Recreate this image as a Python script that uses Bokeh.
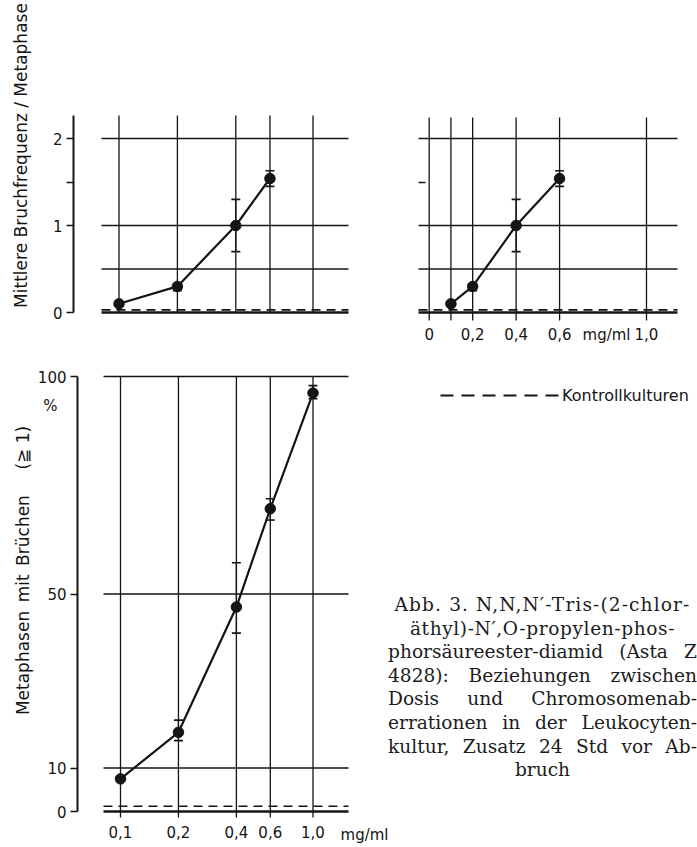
import math
from bokeh.plotting import figure
from bokeh.models import (ColumnDataSource, FixedTicker, Whisker, TeeHead, Label,
                          Legend, LegendItem, Range1d, Div, CustomJSTickFormatter)
from bokeh.layouts import row, column
from bokeh.embed import file_html
from bokeh.resources import INLINE

# ---------------- data ----------------
doses_break = [0.1, 0.2, 0.4, 0.6]          # mg/ml
breaks_mean = [0.10, 0.30, 1.00, 1.54]      # mittlere Bruchfrequenz / Metaphase
breaks_lo = [0.09, 0.25, 0.70, 1.45]
breaks_hi = [0.11, 0.33, 1.30, 1.63]
ctrl_break = 0.03                           # Kontrollkulturen

doses_pct = [0.1, 0.2, 0.4, 0.6, 1.0]       # mg/ml
pct_mean = [7.5, 18.2, 47.0, 69.6, 96.2]    # % Metaphasen mit Brüchen
pct_lo = [7.0, 16.3, 41.0, 67.0, 94.9]
pct_hi = [8.0, 21.0, 57.2, 71.9, 97.9]
ctrl_pct = 1.2                              # Kontrollkulturen

grid_doses_log = [0.1, 0.2, 0.4, 0.6, 1.0]
grid_doses_lin = [0.0, 0.1, 0.2, 0.4, 0.6, 1.0]
grid_break = [0.5, 1.0, 2.0]
grid_pct = [10, 50, 100]
ticks_break_major = [0, 1, 2]
ticks_break_minor = [1.5]
ticks_pct = [0, 10, 50, 100]
ticks_dose_lin = [0.0, 0.2, 0.4, 0.6, 1.0]
ticks_dose_log = [0.1, 0.2, 0.4, 0.6, 1.0]

# ---------------- layout helpers (page pixel -> data) ----------------
INK = "#141414"
SANS = "DejaVu Sans"
TICK_SIZE = "15px"

def tl_x(px):   # log dose axis, top-left panel
    return 10 ** (-1 + (px - 118.5) / 194.0)

def tr_x(px):   # linear dose axis, top-right panel
    return (px - 428.7) / 217.3

def top_y(py):  # breaks per metaphase, both top panels
    return (312.0 - py) / 87.0

def b_x(px):    # log dose axis, bottom panel
    return 10 ** (-1 + (px - 120.0) / 192.5)

def b_y(py):    # percent axis, bottom panel
    return (811.0 - py) / 4.35

comma_fmt = CustomJSTickFormatter(code="return tick == 0 ? '0' : tick.toFixed(1).replace('.', ',');")


def make_fig(w, h, xr, yr, xtype="linear"):
    p = figure(width=w, height=h, x_range=Range1d(*xr), y_range=Range1d(*yr),
               x_axis_type=xtype, output_backend="svg", toolbar_location=None,
               min_border=0, outline_line_color=None, background_fill_color="white",
               border_fill_color="white", margin=(0, 0, 0, 0))
    p.grid.visible = False
    for ax in p.axis:
        ax.axis_line_color = INK
        ax.major_tick_line_color = INK
        ax.minor_tick_line_color = INK
        ax.major_label_text_color = INK
        ax.major_label_text_font = SANS
        ax.major_label_text_font_size = TICK_SIZE
        ax.major_tick_in = 0
        ax.minor_tick_in = 0
        ax.minor_tick_out = 0
    return p


def style_yaxis(ax, loc, bounds, ticks, minor=None):
    ax.fixed_location = loc
    ax.bounds = bounds
    ax.ticker = FixedTicker(ticks=ticks, minor_ticks=minor or [])
    ax.axis_line_width = 2
    ax.major_tick_line_width = 1.6
    ax.minor_tick_line_width = 1.6
    ax.major_tick_out = 7
    ax.minor_tick_out = 7 if minor else 0
    ax.major_label_standoff = 4


def draw_grid(p, vx, vy0, vy1, hy, hx0, hx1, ctrl):
    n = len(vx)
    p.segment(x0=vx, y0=[vy0] * n, x1=vx, y1=[vy1] * n, line_color=INK, line_width=1.3)
    m = len(hy)
    p.segment(x0=[hx0] * m, y0=hy, x1=[hx1] * m, y1=hy, line_color=INK, line_width=1.3)
    p.segment(x0=[hx0], y0=[0], x1=[hx1], y1=[0], line_color=INK, line_width=2.6)
    return p.segment(x0=[hx0], y0=[ctrl], x1=[hx1], y1=[ctrl], line_color=INK,
                     line_width=1.6, line_dash="9 6")


def draw_series(p, xs, ys, lo, hi):
    src = ColumnDataSource(dict(x=xs, y=ys, lo=lo, hi=hi))
    p.add_layout(Whisker(source=src, base="x", lower="lo", upper="hi",
                         line_color=INK, line_width=1.3,
                         upper_head=TeeHead(size=9, line_color=INK, line_width=1.6),
                         lower_head=TeeHead(size=9, line_color=INK, line_width=1.6)))
    p.line("x", "y", source=src, line_color=INK, line_width=2.2)
    p.scatter("x", "y", source=src, size=10.5, fill_color=INK, line_color=INK)


def screen_label(p, box, px, py, text, size=TICK_SIZE, angle=0.0):
    x0, y0, x1, y1 = box
    p.add_layout(Label(x=px - x0, y=y1 - py, x_units="screen", y_units="screen",
                       text=text, angle=angle, text_align="center", text_baseline="middle",
                       text_font=SANS, text_font_size=size, text_color=INK))


# ---------------- top-left: breaks per metaphase, log dose ----------------
TL = (0, 0, 360, 360)
tl = make_fig(TL[2] - TL[0], TL[3] - TL[1], (tl_x(TL[0]), tl_x(TL[2])), (top_y(TL[3]), top_y(TL[1])), "log")
tl.xaxis.visible = False
style_yaxis(tl.yaxis[0], tl_x(73), (0, top_y(115)), ticks_break_major, ticks_break_minor)
draw_grid(tl, grid_doses_log, 0, top_y(115), grid_break, tl_x(101), tl_x(348), ctrl_break)
draw_series(tl, doses_break, breaks_mean, breaks_lo, breaks_hi)
screen_label(tl, TL, 20, 155, "Mittlere Bruchfrequenz / Metaphase", "17px", math.pi / 2)

# ---------------- top-right: breaks per metaphase, linear dose ----------------
TR = (360, 0, 697, 360)
tr = make_fig(TR[2] - TR[0], TR[3] - TR[1], (tr_x(TR[0]), tr_x(TR[2])), (top_y(TR[3]), top_y(TR[1])))
ya = tr.yaxis[0]
ya.fixed_location = tr_x(418)
ya.ticker = FixedTicker(ticks=ticks_break_minor)
ya.axis_line_color = None
ya.major_tick_in = 7
ya.major_tick_out = 0
ya.major_tick_line_width = 1.4
ya.formatter = CustomJSTickFormatter(code="return '';")
xa = tr.xaxis[0]
xa.fixed_location = top_y(320)
xa.ticker = FixedTicker(ticks=ticks_dose_lin)
xa.axis_line_color = None
xa.major_tick_out = 0
xa.formatter = comma_fmt
xa.major_label_standoff = 7
draw_grid(tr, grid_doses_lin, top_y(320), top_y(117), grid_break, tr_x(418), tr_x(677), ctrl_break)
draw_series(tr, doses_break, breaks_mean, breaks_lo, breaks_hi)
screen_label(tr, TR, 606, 334, "mg/ml")

# ---------------- bottom: % metaphases with breaks, log dose ----------------
BT = (0, 360, 388, 847)
bt = make_fig(BT[2] - BT[0], BT[3] - BT[1], (b_x(BT[0]), b_x(BT[2])), (b_y(BT[3]), b_y(BT[1])), "log")
style_yaxis(bt.yaxis[0], b_x(77), (0, 100), ticks_pct)
xb = bt.xaxis[0]
xb.fixed_location = b_y(817)
xb.ticker = FixedTicker(ticks=ticks_dose_log)
xb.axis_line_color = None
xb.major_tick_out = 0
xb.formatter = comma_fmt
xb.major_label_standoff = 8
draw_grid(bt, grid_doses_log, b_y(817), 100, grid_pct, b_x(103), b_x(348), ctrl_pct)
draw_series(bt, doses_pct, pct_mean, pct_lo, pct_hi)
screen_label(bt, BT, 364, 834, "mg/ml")
screen_label(bt, BT, 50, 405, "%")
screen_label(bt, BT, 22, 570, "Metaphasen\u2002mit\u2002Brüchen\u2003\u2002(≧ 1)", "17px", math.pi / 2)

# ---------------- legend ----------------
LG = (388, 360, 697, 410)
lg = figure(width=LG[2] - LG[0], height=LG[3] - LG[1], x_range=Range1d(0, 1), y_range=Range1d(0, 1),
            output_backend="svg", toolbar_location=None, min_border=0,
            outline_line_color=None, x_axis_location=None, y_axis_location=None,
            margin=(0, 0, 0, 0))
lg.grid.visible = False
ctrl_r = lg.line(x=[ctrl_pct], y=[ctrl_pct], line_color=INK, line_width=1.8, line_dash="13 8")
legend = Legend(items=[LegendItem(label="Kontrollkulturen", renderers=[ctrl_r])],
                location=(52, 5), glyph_width=120, glyph_height=20, label_height=20,
                label_standoff=2, padding=0, margin=0, spacing=0,
                border_line_color=None, background_fill_alpha=0,
                label_text_font=SANS, label_text_font_size="16px", label_text_color=INK)
lg.add_layout(legend)

# ---------------- caption ----------------
caption_lines = [
    ("center", "1.1px", "Abb. 3. N,N,N′-Tris-(2-chlor-"),
    ("center", "0.6px", "äthyl)-N′,O-propylen-phos-"),
    ("justify", "0px", "phorsäureester-diamid (Asta Z"),
    ("justify", "0px", "4828): Beziehungen zwischen"),
    ("justify", "0px", "Dosis und Chromosomenab-"),
    ("justify", "0px", "errationen in der Leukocyten-"),
    ("justify", "0px", "kultur, Zusatz 24 Std vor Ab-"),
    ("center", "0px", "bruch"),
]
html_lines = "".join(
    f'<div style="text-align:{a};text-align-last:{a};letter-spacing:{ls};white-space:nowrap;">{t}</div>'
    for a, ls, t in caption_lines)
cap_w = LG[2] - LG[0]
cap_html = (f'<div style="font-family:\'DejaVu Serif\';font-size:18.6px;line-height:23.6px;'
            f'color:#1c1c1c;padding-top:183px;width:{cap_w}px;">{html_lines}</div>')
cap = Div(text=cap_html, width=cap_w, height=847 - LG[3], margin=(0, 0, 0, 0))

layout = column(row(tl, tr), row(bt, column(lg, cap)))
open("out.html", "w").write(file_html(layout, INLINE))
